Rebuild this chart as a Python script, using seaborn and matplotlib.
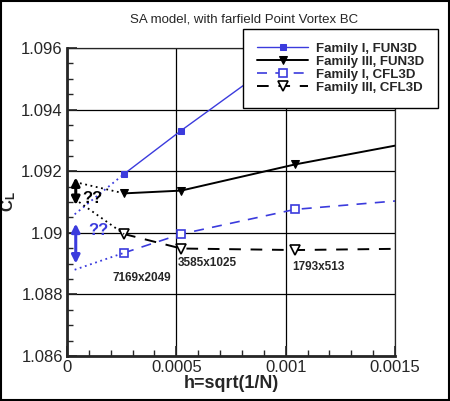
import pandas as pd
import seaborn as sns
import matplotlib.pyplot as plt
from matplotlib.patches import Rectangle
from matplotlib.ticker import MultipleLocator

## grid spacing h=sqrt(1/N) for the 3 finest grids (+ next coarser, off chart)
h = [0.000261, 0.000522, 0.001043, 0.002086]
grid_names = ["7169x2049", "3585x1025", "1793x513"]

## lift coefficient values
cl_fam1_fun3d = [1.09191, 1.09332, 1.09600]
cl_fam3_fun3d = [1.09128, 1.09137, 1.09222, 1.09361]
cl_fam1_cfl3d = [1.08935, 1.08996, 1.09076, 1.09138]
cl_fam3_cfl3d = [1.08996, 1.08949, 1.08944, 1.08953]

## guessed extrapolated values toward h -> 0
h_ext = 0.000035
ext_fam1_fun3d = 1.0906
ext_fam3_fun3d = 1.09165
ext_fam1_cfl3d = 1.0888
ext_fam3_cfl3d = 1.0911

## "??" uncertainty ranges
range_fam3 = (1.0918, 1.0909)
range_fam1 = (1.0903, 1.0890)

BLUE = "#3b3bdd"

sns.set_style("ticks")
plt.rcParams["font.family"] = ["Liberation Sans", "DejaVu Sans"]
plt.rcParams["mathtext.fontset"] = "custom"
plt.rcParams["mathtext.bf"] = "Liberation Sans:bold"
plt.rcParams["mathtext.rm"] = "Liberation Sans"

fig = plt.figure(figsize=(4.5, 4.01), dpi=100)
ax = fig.add_axes([67 / 450, 1 - 356 / 401, 328 / 450, 308 / 401])

## main curves
sns.lineplot(x=h[:3], y=cl_fam1_fun3d, ax=ax, color=BLUE, lw=1.0, marker="s",
             markersize=5, markeredgecolor=BLUE, label="Family I, FUN3D")
sns.lineplot(x=h, y=cl_fam3_fun3d, ax=ax, color="black", lw=1.4, marker="v",
             markersize=6, markeredgecolor="black", label="Family III, FUN3D")
sns.lineplot(x=h, y=cl_fam1_cfl3d, ax=ax, color=BLUE, lw=1.2, linestyle=(0, (6, 5)),
             marker="s", markersize=6, markerfacecolor="white", markeredgecolor=BLUE,
             markeredgewidth=1.2, label="Family I, CFL3D")
sns.lineplot(x=h, y=cl_fam3_cfl3d, ax=ax, color="black", lw=1.4, linestyle=(0, (6, 5)),
             marker="v", markersize=7, markerfacecolor="white", markeredgecolor="black",
             markeredgewidth=1.2, label="Family III, CFL3D")

## dotted extrapolation lines
for ext, first, col in [(ext_fam1_fun3d, cl_fam1_fun3d[0], BLUE),
                        (ext_fam3_fun3d, cl_fam3_fun3d[0], "black"),
                        (ext_fam1_cfl3d, cl_fam1_cfl3d[0], BLUE),
                        (ext_fam3_cfl3d, cl_fam3_cfl3d[0], "black")]:
    sns.lineplot(x=[h_ext, h[0]], y=[ext, first], ax=ax, color=col, lw=1.3,
                 linestyle=(0, (1, 2)))

## uncertainty arrows
for rng, col in [(range_fam3, "black"), (range_fam1, BLUE)]:
    ax.annotate("", xy=(0.00004, rng[0]), xytext=(0.00004, rng[1]),
                arrowprops=dict(arrowstyle="<|-|>", color=col, lw=2.2,
                                mutation_scale=12, shrinkA=0, shrinkB=0))
ax.text(0.000114, 1.09111, "??", color="black", fontsize=12, fontweight="bold",
        ha="center", va="center")
ax.text(0.000142, 1.09009, "??", color=BLUE, fontsize=12, fontweight="bold",
        ha="center", va="center")

## grid size labels
ax.text(0.000341, 1.08853, grid_names[0], fontsize=8.5, fontweight="bold",
        ha="center", va="center")
ax.text(0.000507, 1.08902, grid_names[1], fontsize=8.5, fontweight="bold",
        ha="left", va="center")
ax.text(0.001032, 1.08889, grid_names[2], fontsize=8.5, fontweight="bold",
        ha="left", va="center")

ax.set_xlim(0, 0.0015)
ax.set_ylim(1.086, 1.096)
ax.xaxis.set_minor_locator(MultipleLocator(0.0001))
ax.yaxis.set_minor_locator(MultipleLocator(0.0005))
ax.set_xticks([0, 0.0005, 0.001, 0.0015])
ax.set_xticklabels(["0", "0.0005", "0.001", "0.0015"])
ax.set_yticks([1.086, 1.088, 1.09, 1.092, 1.094, 1.096])
ax.set_yticklabels(["1.086", "1.088", "1.09", "1.092", "1.094", "1.096"])
ax.tick_params(which="major", direction="in", length=7, width=1.2, labelsize=12, pad=3,
               top=False, right=False)
ax.tick_params(which="minor", direction="in", length=4, width=1, top=False, right=False)
ax.grid(True, which="major", color="black", lw=0.9)

for side in ["left", "bottom"]:
    ax.spines[side].set_linewidth(2)
for side in ["top", "right"]:
    ax.spines[side].set_linewidth(0.9)

ax.set_xlabel("h=sqrt(1/N)", fontsize=13, fontweight="bold", labelpad=0)
ax.set_ylabel(r"$\mathbf{C_L}$", fontsize=12, rotation=90)
ax.yaxis.set_label_coords(-0.148, 0.5)

leg = ax.legend(loc="upper left", bbox_to_anchor=(0.537, 1.062),
                prop={"weight": "bold", "size": 9.5}, frameon=True, fancybox=False,
                edgecolor="black", framealpha=1, handlelength=3.9, handletextpad=0.6,
                labelspacing=0.06, borderpad=1.05, borderaxespad=0)
leg.get_frame().set_linewidth(1.0)
leg.set_zorder(10)

fig.text(244 / 450, 1 - 20 / 401, "SA model, with farfield Point Vortex BC",
         fontsize=9.5, ha="center", va="center")

fig.patches.append(Rectangle((0.003, 0.003), 0.994, 0.994, transform=fig.transFigure,
                             fill=False, ec="black", lw=1.5))

fig.savefig("out.png", dpi=100)
